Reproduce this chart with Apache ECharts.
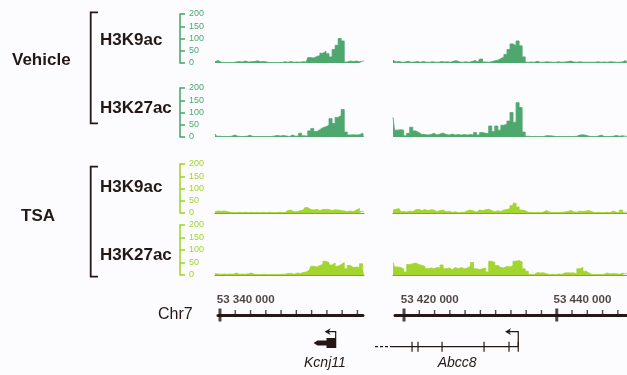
<!DOCTYPE html>
<html><head><meta charset="utf-8">
<script src="https://cdn.jsdelivr.net/npm/echarts/dist/echarts.min.js"></script>
<style>html,body{margin:0;padding:0;background:#fcfcfe}#c{width:627px;height:375px}</style>
</head><body><div id="c"></div>
<script>
// ---- signal values (per ~3px genomic bin) ----
const v9L = [5,10,3,2,2,2,2,4,6,4, 8,4,5,6,9,5,6,4,2,2, 2,2,2,5,3,6,3,4,3,5, 4,22,20,27,30,40,48,38,25,55, 72,100,90,4,8,6,8,5,7,9];
const v9R = [12,4,6,3,4,7,3,4,6,3, 6,3,3,5,3,3,6,4,5,3, 8,9,4,3,5,3,6,10,4,16, 4,3,5,9,11,18,24,35,55,78, 70,90,70,25,3,4,3,7,3,3, 5,4,3,3,5,3,4,5,8,4, 3,5,3,3,3,3,3,5,3,4, 3,5,4,3,3,4,10,5];
const v27L = [12,3,2,2,2,3,8,3,2,2, 3,7,2,2,2,2,2,2,2,4, 6,4,6,4,2,8,3,4,15,5, 3,25,35,22,30,38,42,48,75,55, 80,88,112,20,8,9,8,9,15,9];
const v27R = [80,28,30,28,5,15,40,25,18,10, 10,8,10,15,8,12,16,10,8,12, 8,10,8,10,8,10,8,18,8,18, 15,14,45,22,45,28,48,52,65,100, 60,140,120,20,3,2,2,2,2,2, 5,5,4,2,2,2,2,2,2,2, 3,8,9,7,3,2,2,3,8,2, 2,2,3,6,3,5,3,2];
const t9L = [6,8,7,8,6,3,2,2,3,2, 3,2,3,2,3,2,3,2,3,2, 2,3,2,2,10,12,5,6,9,12, 22,14,12,15,10,14,15,14,10,13, 12,10,8,6,8,6,12,18,7,5];
const t9R = [12,15,18,6,4,8,6,13,15,10, 14,10,13,12,6,10,12,5,7,3, 5,2,3,3,9,12,8,4,12,10, 13,15,10,5,9,6,12,14,18,30, 40,25,12,10,3,3,2,3,2,4, 10,4,2,2,2,3,4,6,10,5, 3,8,6,8,10,5,2,3,2,2, 3,2,8,3,2,12,3,4];
const t27L = [6,4,3,4,3,4,3,8,3,4, 3,5,8,3,2,2,3,2,2,2, 2,2,3,3,6,7,3,8,6,10, 12,20,35,32,38,42,55,50,40,48, 35,42,50,25,38,30,32,30,45,32];
const t27R = [50,32,30,25,12,42,45,48,42,38, 35,25,28,25,30,28,40,25,28,22, 30,25,30,25,28,35,50,25,22,25, 28,12,55,50,38,30,28,35,32,38, 55,58,52,25,15,3,2,10,8,9, 5,2,3,2,4,3,8,9,8,9, 3,25,30,15,8,2,2,3,2,3, 8,4,6,5,3,7,5,8];

// ---- axis / tick values ----
const yMin = 0, yMax = 200, yStep = 50;
const chrLeftRange = [53339740, 53358730];
const chrRightRange = [53418820, 53449200];
const majorTicks = [53340000, 53420000, 53440000];
const minorTicks = [53342000,53344000,53346000,53348000,53350000,53352000,53354000,53356000,53358000,
                    53422000,53424000,53426000,53428000,53430000,53432000,53434000,53436000,53438000,
                    53442000,53444000,53446000,53448000];

// ---- genes (bp) ----
const kcnj11Tx = [53352250, 53355230];     // minus strand, TSS at right
const kcnj11Thick = [53353950, 53355230];
const kcnj11ArrowEnd = 53353700;
const abcc8Tx = [53418560, 53434960];
const abcc8Dashed = [53416200, 53418560];
const abcc8Exons = [53421050, 53421830, 53424980, 53430480, 53433750, 53434960];
const abcc8ArrowEnd = 53433230;

const INK = '#231815', GREEN = '#4ea86e', LIME = '#a2d62e', BASE = '#8e8e8e';
const FONT = '"Liberation Sans", Arial, Helvetica, sans-serif';

const trackDefs = [
  {top: 14, height: 49, color: GREEN, L: v9L, R: v9R, base: false},
  {top: 88, height: 49, color: GREEN, L: v27L, R: v27R, base: false},
  {top: 164, height: 49, color: LIME, L: t9L, R: t9R, base: true},
  {top: 225, height: 50, color: LIME, L: t27L, R: t27R, base: true}
];

const grid = [], xAxis = [], yAxis = [], series = [];
trackDefs.forEach(function (t) {
  [['L', 215, 149], ['R', 393, 234]].forEach(function (side) {
    const idx = grid.length;
    const data = t[side[0]];
    grid.push({left: side[1], top: t.top, width: side[2], height: t.height});
    xAxis.push({
      gridIndex: idx, type: 'category', boundaryGap: false,
      data: data.map(function (_, i) { return i; }),
      show: t.base, z: 3,
      axisLine: {show: t.base, lineStyle: {color: BASE, width: 1.2}},
      axisTick: {show: false}, axisLabel: {show: false}, splitLine: {show: false}
    });
    yAxis.push({
      gridIndex: idx, type: 'value', min: yMin, max: yMax, interval: yStep,
      show: side[0] === 'L', position: 'left', offset: 35,
      axisLine: {show: true, lineStyle: {color: t.color, width: 1.6}},
      axisTick: {show: true, inside: true, length: 5, lineStyle: {color: t.color, width: 1.6}},
      axisLabel: {show: true, inside: true, margin: 9, fontSize: 9, color: t.color, fontFamily: FONT},
      splitLine: {show: false}
    });
    series.push({
      type: 'line', xAxisIndex: idx, yAxisIndex: idx, data: data,
      step: 'middle', symbol: 'none', silent: true,
      lineStyle: {color: t.color, width: 0.8},
      areaStyle: {color: t.color, opacity: 1}
    });
  });
});

// chromosome axis grids and gene grids
const chrG = grid.length;
grid.push({left: 218, top: 305, width: 145, height: 20});
grid.push({left: 395, top: 305, width: 232, height: 20});
grid.push({left: 218, top: 330, width: 145, height: 30});
grid.push({left: 395, top: 330, width: 232, height: 30});
[chrLeftRange, chrRightRange].forEach(function (r, k) {
  xAxis.push({
    gridIndex: chrG + k, type: 'value', min: r[0], max: r[1],
    axisLine: {show: true, onZero: true, lineStyle: {color: INK, width: 3}},
    axisTick: {show: false}, axisLabel: {show: false}, splitLine: {show: false}
  });
  yAxis.push({gridIndex: chrG + k, type: 'value', min: -1, max: 1, show: false, splitLine: {show: false}});
});
[chrLeftRange, chrRightRange].forEach(function (r, k) {
  xAxis.push({gridIndex: chrG + 2 + k, type: 'value', min: r[0], max: r[1], show: false, splitLine: {show: false}});
  yAxis.push({gridIndex: chrG + 2 + k, type: 'value', min: 0, max: 1, show: false, splitLine: {show: false}});
});

function inRange(v, r) { return v >= r[0] && v <= r[1]; }
[chrLeftRange, chrRightRange].forEach(function (r, k) {
  series.push({
    type: 'scatter', xAxisIndex: chrG + k, yAxisIndex: chrG + k, silent: true,
    symbol: 'rect', symbolSize: [1.4, 5], symbolOffset: [0, -2.5],
    itemStyle: {color: INK},
    data: minorTicks.filter(function (v) { return inRange(v, r); }).map(function (v) { return [v, 0]; })
  });
  series.push({
    type: 'scatter', xAxisIndex: chrG + k, yAxisIndex: chrG + k, silent: true,
    symbol: 'rect', symbolSize: [3, 13],
    itemStyle: {color: INK},
    label: {
      show: true, position: [-1.8, -14.5], align: 'left', verticalAlign: 'top',
      fontSize: 11.6, fontWeight: 'bold', color: INK, fontFamily: FONT,
      formatter: function (p) { return String(p.value[0]).replace(/\B(?=(\d{3})+(?!\d))/g, ' '); }
    },
    data: majorTicks.filter(function (v) { return inRange(v, r); }).map(function (v) { return [v, 0]; })
  });
});

function arrowParts(xTop, yFrom, yArrow, xEnd) {
  return [
    {type: 'polyline', shape: {points: [[xTop, yFrom], [xTop, yArrow], [xEnd + 3, yArrow]]},
     style: {stroke: INK, lineWidth: 1.2, fill: null}},
    {type: 'polygon', shape: {points: [[xEnd + 6, yArrow - 3.4], [xEnd, yArrow], [xEnd + 6, yArrow + 3.4], [xEnd + 4.2, yArrow]]},
     style: {fill: INK}}
  ];
}

// Kcnj11 (left panel)
series.push({
  type: 'custom', xAxisIndex: chrG + 2, yAxisIndex: chrG + 2, silent: true, clip: false,
  data: [[kcnj11Tx[0], 0.5]],
  renderItem: function (params, api) {
    const X = function (v) { return api.coord([v, 0.5])[0]; };
    const y = api.coord([kcnj11Tx[0], 0.5])[1] - 2;
    const s = X(kcnj11Tx[0]), b = X(kcnj11Thick[0]), e = X(kcnj11Tx[1]), a = X(kcnj11ArrowEnd);
    const ch = [
      {type: 'polygon', shape: {points: [[s, y], [s + 4, y - 2.6], [b, y - 2.6], [b, y - 5], [e, y - 5], [e, y + 5], [b, y + 5], [b, y + 2.6], [s + 4, y + 2.6]]},
       style: {fill: INK}},
      {type: 'text', style: {text: 'Kcnj11', x: (s + e) / 2, y: y + 20.5, align: 'center', verticalAlign: 'middle',
       font: 'italic 14px ' + FONT, fill: INK}}
    ].concat(arrowParts(e - 0.6, y - 5, y - 11.3, a));
    return {type: 'group', children: ch};
  }
});

// Abcc8 (right panel)
series.push({
  type: 'custom', xAxisIndex: chrG + 3, yAxisIndex: chrG + 3, silent: true, clip: false,
  data: [[abcc8Tx[0], 0.5]],
  renderItem: function (params, api) {
    const X = function (v) { return api.coord([v, 0.5])[0]; };
    const y = api.coord([abcc8Tx[0], 0.5])[1] + 1.7;
    const s = X(abcc8Tx[0]), e = X(abcc8Tx[1]), a = X(abcc8ArrowEnd);
    const ch = [
      {type: 'line', shape: {x1: X(abcc8Dashed[0]), y1: y, x2: X(abcc8Dashed[1]), y2: y},
       style: {stroke: INK, lineWidth: 1.2, lineDash: [3, 2]}},
      {type: 'line', shape: {x1: s, y1: y, x2: e, y2: y}, style: {stroke: INK, lineWidth: 1.2}},
      {type: 'text', style: {text: 'Abcc8', x: (s + e) / 2 + 1.5, y: y + 16.5, align: 'center', verticalAlign: 'middle',
       font: 'italic 14px ' + FONT, fill: INK}}
    ];
    abcc8Exons.forEach(function (v) {
      const x = X(v);
      ch.push({type: 'line', shape: {x1: x, y1: y - 5, x2: x, y2: y + 5}, style: {stroke: INK, lineWidth: 1.2}});
    });
    return {type: 'group', children: ch.concat(arrowParts(e, y, y - 15, a))};
  }
});

function label(text, x, y, size, weight) {
  return {type: 'text', silent: true, style: {text: text, x: x, y: y, verticalAlign: 'middle', align: 'left',
    font: (weight || 'bold') + ' ' + size + 'px ' + FONT, fill: INK}};
}
function bracket(y1, y2) {
  return {type: 'polyline', silent: true, shape: {points: [[98, y1], [90.7, y1], [90.7, y2], [98, y2]]},
    style: {stroke: INK, lineWidth: 1.8, fill: null}};
}

const chart = echarts.init(document.getElementById('c'), null, {renderer: 'canvas'});
chart.setOption({
  animation: false,
  backgroundColor: '#fcfcfe',
  grid: grid, xAxis: xAxis, yAxis: yAxis, series: series,
  graphic: [
    label('Vehicle', 12, 60, 17), label('TSA', 21, 216, 17),
    label('H3K9ac', 100, 40, 17), label('H3K27ac', 100, 108, 17),
    label('H3K9ac', 100, 187, 17), label('H3K27ac', 100, 255, 17),
    label('Chr7', 158, 315, 16, 'normal'),
    bracket(12.3, 123.3), bracket(166.7, 276.7)
  ]
});
</script></body></html>
